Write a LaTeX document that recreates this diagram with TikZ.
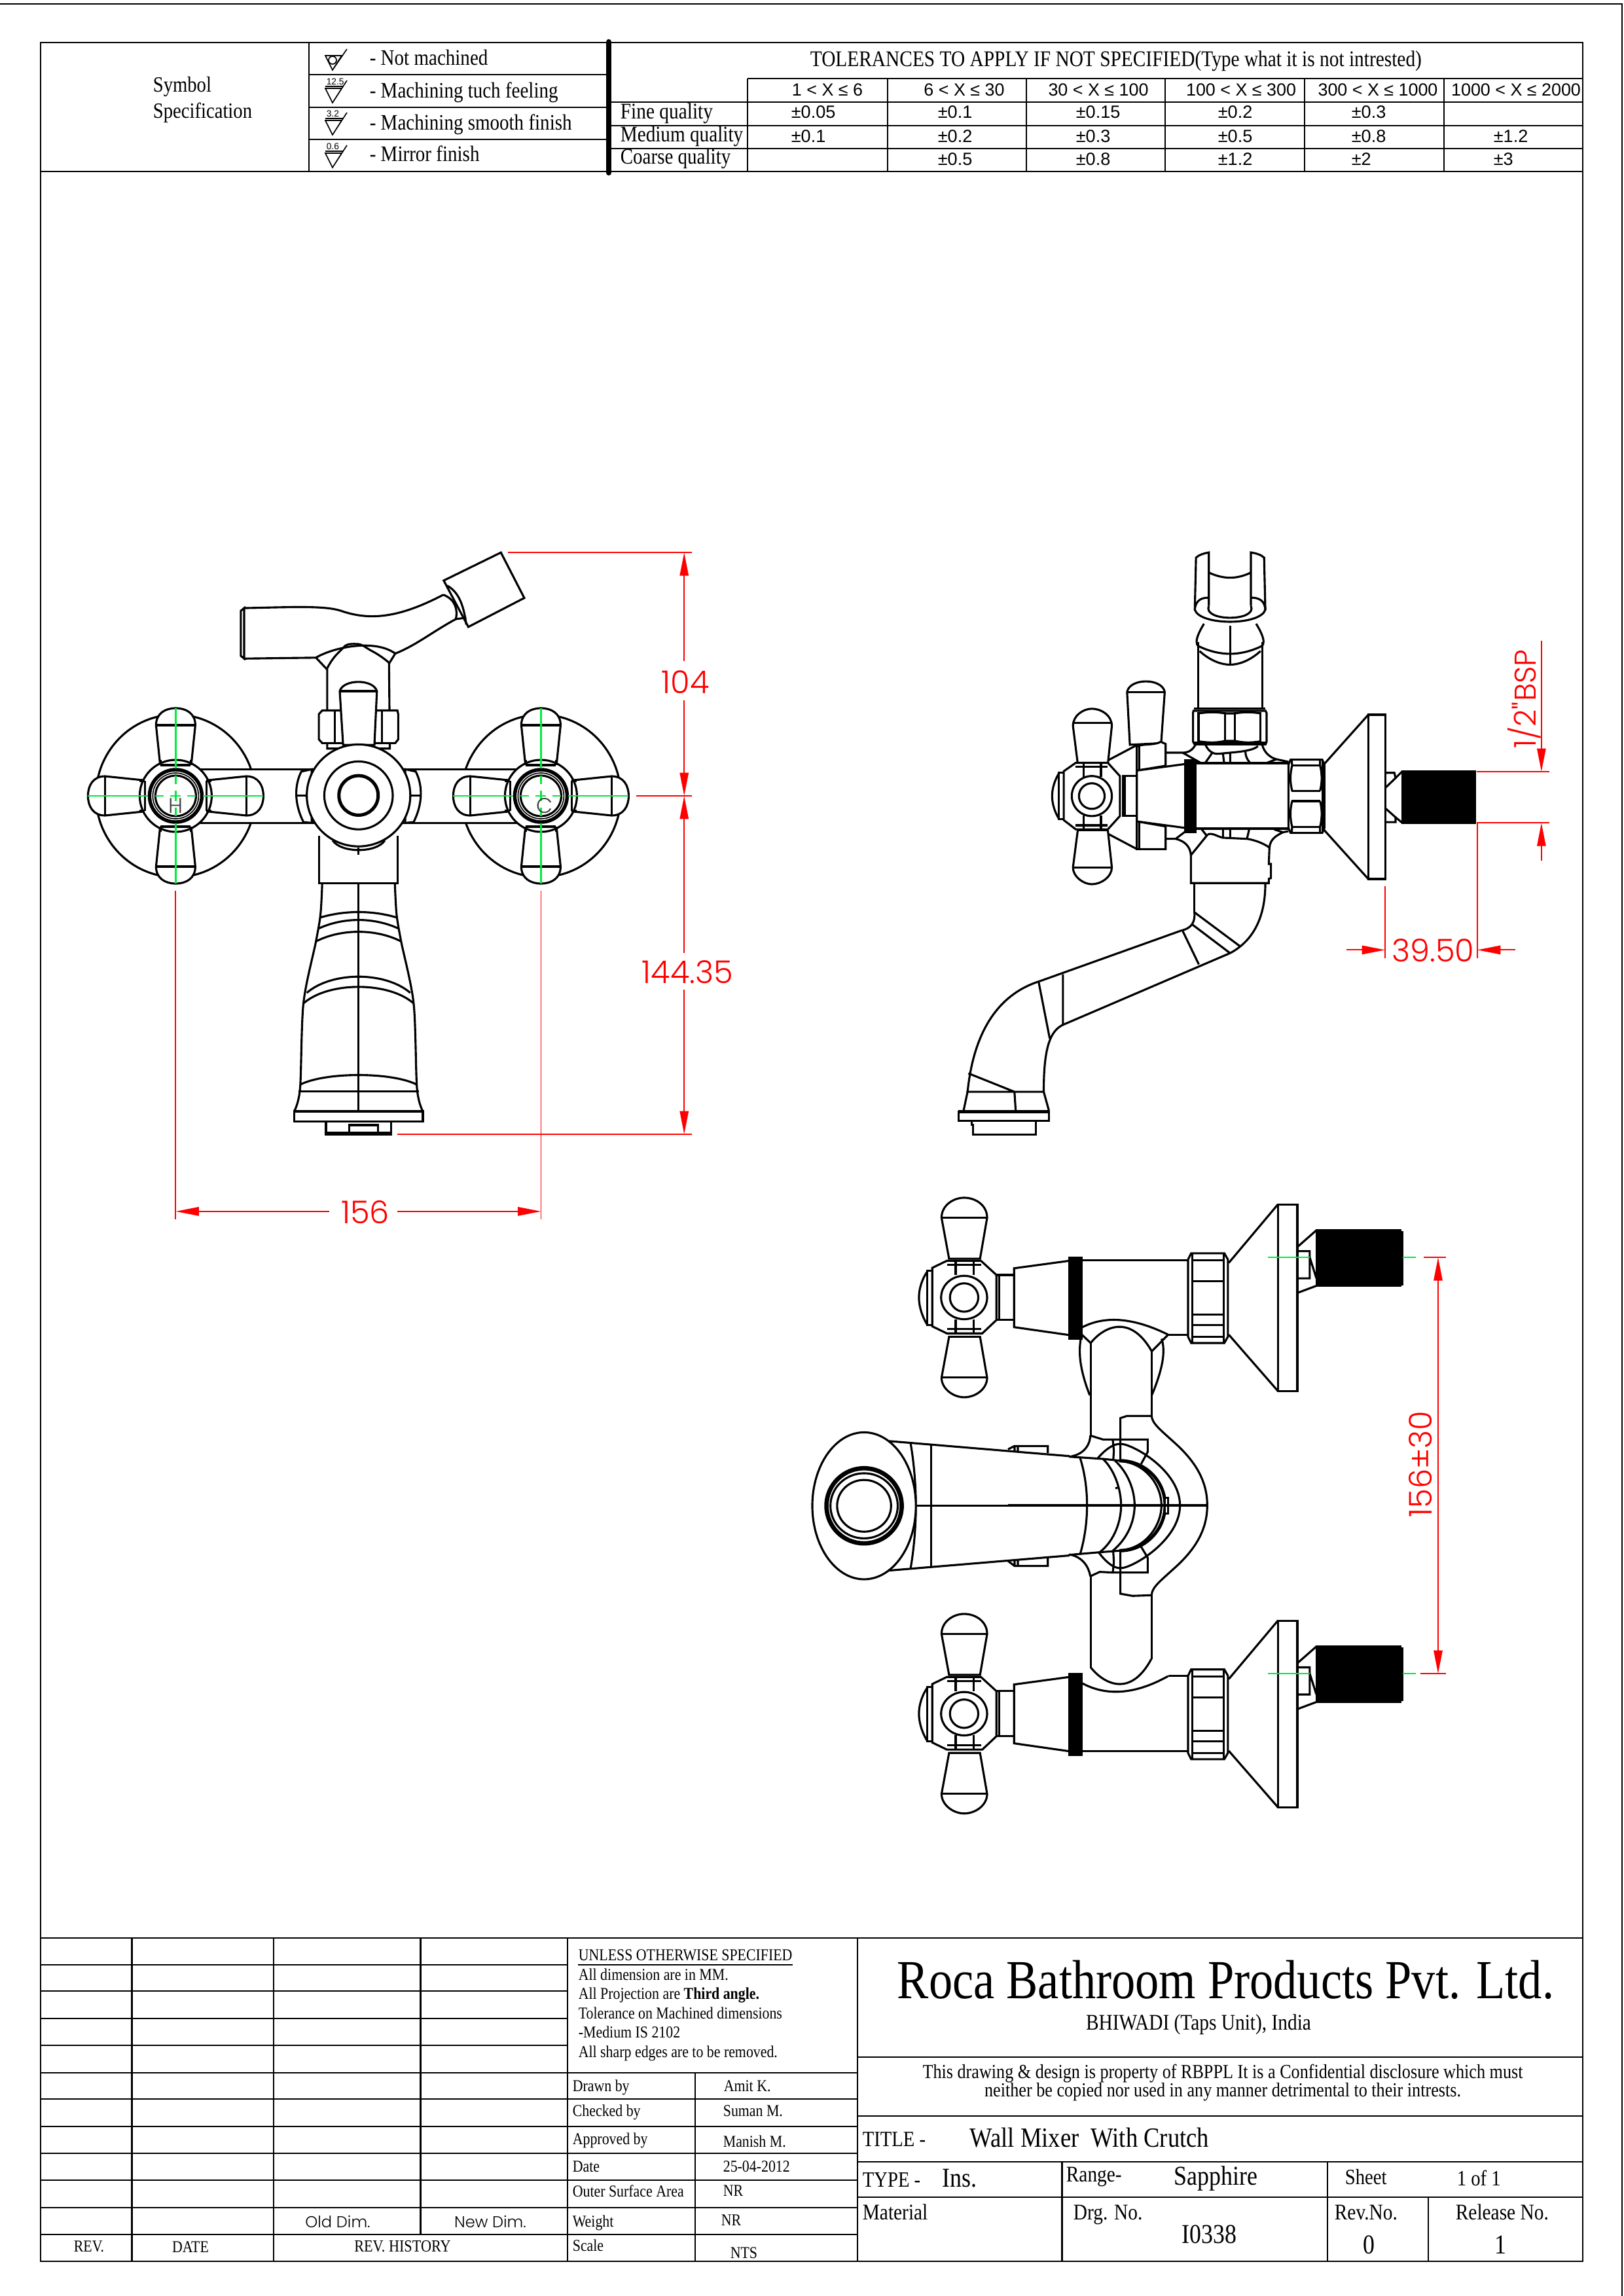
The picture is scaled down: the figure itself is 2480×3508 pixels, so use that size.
\documentclass[tikz,border=0pt]{standalone}
\usepackage{fontspec}
\setmainfont[FakeStretch=0.86]{Liberation Serif}
\newfontfamily\tolfont{Liberation Sans}
\newfontfamily\dimfont{Poppins Light}
\usetikzlibrary{arrows.meta}
\definecolor{axisgreen}{RGB}{0,235,60}

\tikzset{
	gridline/.style={draw=black,line width=.6pt},
	outl/.style={draw=black,line width=.75pt},
	part/.style={draw=black,line width=.75pt,fill=white},
	solid black/.style={draw=black,line width=.75pt,fill=black},
	cline/.style={draw=axisgreen,line width=.55pt},
	soft/.style={smooth,tension=1},
	dimline/.style={draw=red,line width=.45pt},
	dimtip/.style={dimline,-{Triangle[length=8.5pt,width=3.2pt,fill=red]}},
	dimlabel/.style={inner sep=0pt,text=red,font=\dimfont\fontsize{11.5}{11.5}\selectfont},
	lbl/.style={inner sep=0pt,anchor=base west,font=\fontsize{#1}{#1}\selectfont},
	lblc/.style={inner sep=0pt,anchor=base,font=\fontsize{#1}{#1}\selectfont},
	tol/.style={inner sep=0pt,anchor=base west,font=\tolfont\fontsize{6.5}{6.5}\selectfont},
	tolc/.style={inner sep=0pt,anchor=base,font=\tolfont\fontsize{6.45}{6.45}\selectfont},
	viewfront/.style={shift={(100,800)},xscale=0.6378,yscale=0.7015},
	viewside/.style={shift={(1420,800)},scale=0.6122},
	viewsidehub/.style={shift={(1720,1080)},scale=0.3333},
	viewplan/.style={shift={(1220,1800)},xscale=0.6761,yscale=0.6378},
	viewplanhub/.style={shift={(1540,2120)},scale=0.3333}
}

\newcommand{\knobfront}[2]{
	\begin{scope}[shift={(#1,#2)}]
		\foreach \ang in {0,90,180,270}{
			\begin{scope}[rotate=\ang]
				\draw[part] (-24,-50) -- (-30,-108) .. controls (-30,-126) and (-16,-134) .. (0,-134) .. controls (16,-134) and (30,-126) .. (30,-108) -- (24,-50) -- cycle;
				\draw[outl] (-30,-108) -- (30,-108);
			\end{scope}
		}
		\draw[part] (0,0) circle (55);
		\foreach \ang in {0,90,180,270}{
			\begin{scope}[rotate=\ang]
				\draw[outl] (-23,-55) -- (-23,-47) (23,-55) -- (23,-47);
				\draw[outl] (-23,-47) -- (23,-47);
			\end{scope}
		}
		\draw[outl,line width=1.3pt,fill=white] (0,0) circle (40);
		\draw[outl,line width=.4pt] (0,0) circle (35);
		\draw[outl] (0,0) circle (31);
		\draw[cline] (-134,0) -- (-42,0) (42,0) -- (134,0) (0,-134) -- (0,-42) (0,42) -- (0,134);
		\draw[cline] (-31,0) -- (-18,0) (-8,0) -- (8,0) (18,0) -- (31,0);
		\draw[cline] (0,-31) -- (0,-18) (0,-8) -- (0,8) (0,18) -- (0,31);
	\end{scope}
}

\newcommand{\planvalve}{
	\draw[part] (290,222) rectangle (302,352);
	\draw[outl] plot[soft] coordinates {(290,225) (272,286) (290,350)};
	\draw[part] (340,193) -- (323,95) .. controls (323,65) and (350,47) .. (374,47) .. controls (400,47) and (426,65) .. (426,95) -- (410,193) -- cycle;
	\draw[outl] (323,95) -- (426,95);
	\draw[part] (340,380) -- (323,478) .. controls (323,505) and (350,525) .. (374,525) .. controls (400,525) and (426,505) .. (426,478) -- (410,380) -- cycle;
	\draw[outl] (323,478) -- (426,478);
	\draw[part] (447,232) rectangle (487,340);
	\draw[outl] (453,232) -- (453,340);
	\draw[part] (302,215) -- (335,198) -- (412,198) -- (447,232) -- (447,340) -- (415,372) -- (335,372) -- (302,355) -- cycle;
	\draw[outl] (355,198) -- (355,232) (395,198) -- (395,232) (355,338) -- (355,372) (395,338) -- (395,372);
	\draw[outl] (335,208) -- (412,208) (335,362) -- (412,362);
	\draw[part] (374,286) ellipse [x radius=52,y radius=52];
	\draw[outl] (374,286) ellipse [x radius=32,y radius=34];
	\draw[part] (487,216) -- (612,198) -- (612,376) -- (487,357) -- cycle;
	\draw[solid black] (612,190) rectangle (640,385);
	\draw[part] (1083,63) rectangle (1127,510);
	\draw[outl] (972,203) -- (1083,63) (972,375) -- (1083,510);
	\draw[part] (887,180) -- (962,180) -- (970,195) -- (970,380) -- (962,395) -- (887,395) -- (880,380) -- (880,195) -- cycle;
	\draw[outl] (888,247) -- (962,247) (888,327) -- (962,327) (888,352) -- (962,352);
	\draw[outl] (888,197) -- (962,197) (888,380) -- (962,380);
	\draw[outl] (889,180) -- (889,395) (961,180) -- (961,395);
	\draw[outl] (1127,165) -- (1170,125) (1127,275) -- (1170,258);
	\draw[outl] (1127,175) -- (1155,175) -- (1155,240) -- (1127,240) (1155,190) -- (1170,240);
	\draw[solid black] (1170,125) rectangle (1360,258);
	\draw[outl] (1360,130) -- (1365,130) -- (1365,254) -- (1360,254);
	\draw[cline] (1060,190) -- (1155,190) (1365,190) -- (1395,190);
}

\begin{document}
\begin{tikzpicture}[x=0.24pt,y=-0.24pt]
	\useasboundingbox (0,0) rectangle (2480,3508);

	\draw[gridline] (0,6) -- (2478,6) -- (2478,3508);
	\draw[gridline] (62,65) rectangle (2418,3455);
	\draw[gridline] (62,262) -- (2418,262);
	\draw[gridline] (62,2961) -- (2418,2961);

	\draw[gridline] (472,65) -- (472,262);
	\draw[gridline] (472,114) -- (930,114) (472,164) -- (930,164) (472,213) -- (930,213);
	\draw[draw=black,line width=2pt,line cap=round] (930,64) -- (930,264);
	\draw[gridline] (1142,120) -- (2418,120);
	\foreach \yy in {156,192,227}
		\draw[gridline] (930,\yy) -- (2418,\yy);
	\foreach \xx in {1142,1356,1568,1780,1993,2206}
		\draw[gridline] (\xx,120) -- (\xx,262);

	\node (symbolA) [lbl=8] at (233,141) {Symbol};
	\node (symbolB) [lbl=8] at (233,181) {Specification};
	\node (finishA) [lbl=8.1] at (564,100) {- Not machined};
	\node (finishB) [lbl=8.1] at (564,150) {- Machining tuch feeling};
	\node (finishC) [lbl=8.1] at (564,199) {- Machining smooth finish};
	\node (finishD) [lbl=8.1] at (564,247) {- Mirror finish};
	\draw[line width=.4pt] (497,85) -- (522,85) -- (508,107) -- cycle (508,107) -- (530,75);
	\draw[line width=.4pt] (508,92) circle (6);
	\foreach \yy/\val/\nm in {135/12.5/A,184/3.2/B,234/0.6/C}{
		\draw[line width=.4pt] (497,\yy) -- (522,\yy) -- (508,\yy+22) -- cycle (497,\yy-3) -- (524,\yy-3) (508,\yy+22) -- (530,\yy-12);
		\node (rough\nm) [inner sep=0pt,anchor=base west,font=\tolfont\fontsize{3.3}{3.3}\selectfont] at (498,\yy-5) {\val};
	}

	\node (tolhead) [lbl=8.2] at (1237,102) {TOLERANCES TO APPLY IF NOT SPECIFIED(Type what it is not intrested)};
	\node (rangeA) [tolc] at (1264,147) {1 < X ≤ 6};
	\node (rangeB) [tolc] at (1473,147) {6 < X ≤ 30};
	\node (rangeC) [tolc] at (1678,147) {30 < X ≤ 100};
	\node (rangeD) [tolc] at (1896,147) {100 < X ≤ 300};
	\node (rangeE) [tolc] at (2105,147) {300 < X ≤ 1000};
	\node (rangeF) [tolc] at (2316,147) {1000 < X ≤ 2000};
	\node (fine) [lbl=8.2] at (947,182) {Fine quality};
	\node (medium) [lbl=8.15] at (947,217) {Medium quality};
	\node (coarse) [lbl=8.1] at (947,251) {Coarse quality};
	\foreach \xx/\val/\nm in {1208/0.05/A,1432/0.1/B,1643/0.15/C,1860/0.2/D,2064/0.3/E}
		\node (fine\nm) [tol] at (\xx,181) {±\val};
	\foreach \xx/\val/\nm in {1208/0.1/A,1432/0.2/B,1643/0.3/C,1860/0.5/D,2064/0.8/E,2281/1.2/F}
		\node (medium\nm) [tol] at (\xx,218) {±\val};
	\foreach \xx/\val/\nm in {1432/0.5/B,1643/0.8/C,1860/1.2/D,2064/2/E,2281/3/F}
		\node (coarse\nm) [tol] at (\xx,253) {±\val};

	\begin{scope}[viewfront]
		\draw[outl] (264,593) ellipse [x radius=191,y radius=177];
		\draw[outl] (1139,593) ellipse [x radius=191,y radius=177];
		\draw[part] (300,535) rectangle (1104,652);
		\draw[part] (600,292) .. controls (640,270) and (740,250) .. (790,283) -- (775,305) -- (777,490) -- (627,490) -- (627,318) -- cycle;
		\draw[outl] plot[soft] coordinates {(627,315) (655,280) (690,262) (735,278) (775,303)};
		\draw[outl] (428,184) .. controls (540,182) and (620,178) .. (660,190) .. controls (730,212) and (800,205) .. (905,155);
		\draw[outl] (428,294) -- (600,292);
		\draw[outl] (790,283) .. controls (840,265) and (880,235) .. (935,208);
		\draw[outl] (428,184) -- (420,190) -- (420,288) -- (428,294) -- cycle;
		\draw[part] (1043,63) -- (1099,162) -- (965,225) -- (906,124) -- cycle;
		\draw[outl] (914,135) .. controls (945,150) and (955,185) .. (960,220);
		\draw[outl] (905,155) .. controls (935,165) and (940,190) .. (935,208) -- (960,205);
		\draw[part] (607,415) -- (615,407) -- (795,407) -- (797,415) -- (797,470) -- (790,478) -- (615,478) -- (607,470) -- cycle;
		\draw[outl] (645,407) -- (645,478) (758,407) -- (758,478);
		\draw[part] (657,365) .. controls (665,338) and (738,338) .. (746,365) -- (740,482) -- (665,482) -- cycle;
		\draw[outl] (657,365) -- (746,365);
		\draw[outl] (608,680) -- (608,783) -- (795,783) -- (795,680);
		\draw[part] (590,535) -- (565,540) .. controls (548,570) and (548,610) .. (570,650) -- (590,652) -- cycle;
		\draw[part] (814,535) -- (839,540) .. controls (856,570) and (856,610) .. (834,650) -- (814,652) -- cycle;
		\draw[outl] (552,592) -- (580,592) (824,592) -- (852,592);
		\draw[outl] (640,690) .. controls (660,718) and (745,718) .. (765,690);
		\draw[outl] (702,705) -- (702,722);
		\draw[part] (702,592) ellipse [x radius=124,y radius=111];
		\draw[outl] (702,592) ellipse [x radius=82,y radius=74];
		\draw[outl,line width=1.2pt] (702,592) ellipse [x radius=47,y radius=43];
		\draw[outl] plot[smooth] coordinates {(615,783) (611,850) (600,910) (570,1045) (562,1230) (548,1280)};
		\draw[outl] plot[smooth] coordinates {(789,783) (793,850) (804,910) (834,1045) (842,1230) (856,1280)};
		\draw[outl] (702,783) -- (702,1302);
		\foreach \yl/\yc/\xl in {858/845/610,882/860/606,910/885/600,1022/978/578,1045/1000/570,1222/1197/562}
			\draw[outl] (\xl,\yl) .. controls (\xl+60,\yc-3) and (1344-\xl,\yc-3) .. (1404-\xl,\yl);
		\draw[outl] (558,1237) -- (846,1237);
		\draw[part] (548,1280) rectangle (856,1302);
		\draw[outl] (624,1302) -- (624,1330) -- (780,1330) -- (780,1302);
		\draw[outl] (624,1326) -- (780,1326) (680,1310) rectangle (748,1330);

		\draw[dimline] (1060,63) -- (1500,63);
		\draw[dimline] (1367,593) -- (1500,593);
		\draw[dimline] (795,1330) -- (1500,1330);
		\draw[dimline] (264,800) -- (264,1515);
		\draw[dimline] (1139,800) -- (1139,1515);
		\draw[dimtip] (1482,300) -- (1482,63);
		\draw[dimtip] (1482,385) -- (1482,593);
		\draw[dimtip] (1482,935) -- (1482,593);
		\draw[dimtip] (1482,1015) -- (1482,1330);
		\draw[dimtip] (632,1498) -- (264,1498);
		\draw[dimtip] (795,1498) -- (1139,1498);
		\node (dimA) [dimlabel] at (1485,345) {104};
		\node (dimB) [dimlabel] at (1490,977) {144.35};
		\node (dimC) [dimlabel] at (718,1500) {156};
	\end{scope}
	\knobfront{268.4}{1216}
	\knobfront{826.4}{1216}
	\node (hotmark) [inner sep=0pt,text=black!75,font=\dimfont\fontsize{7.8}{7.8}\selectfont] at (268.4,1231) {H};
	\node (coldmark) [inner sep=0pt,text=black!75,font=\dimfont\fontsize{7.8}{7.8}\selectfont] at (832,1231) {C};

	\begin{scope}[viewside]
		\draw[outl] plot[soft] coordinates {(661,970) (655,1000) (630,1015)};
		\draw[outl] (661,898) -- (661,970);
		\draw[outl] (630,1015) -- (275,1142);
		\draw[outl] (275,1142) .. controls (170,1175) and (110,1270) .. (95,1418) -- (85,1465);
		\draw[outl] (838,898) .. controls (838,980) and (810,1040) .. (750,1072);
		\draw[outl] (750,1072) -- (335,1250);
		\draw[outl] (335,1250) .. controls (300,1265) and (285,1310) .. (285,1418) -- (298,1465);
		\draw[outl] (661,970) -- (775,1055) (655,1000) -- (750,1072) (632,1017) -- (672,1100);
		\draw[outl] (272,1142) -- (300,1285) (333,1125) -- (333,1250);
		\draw[outl] (97,1372) -- (212,1418) (92,1418) -- (285,1418) (212,1418) -- (215,1465);
		\draw[part] (72,1467) rectangle (298,1490);
		\draw[outl,line width=1.2pt] (72,1467) -- (298,1467);
		\draw[outl] (105,1490) -- (105,1500) -- (108,1500) -- (108,1525) -- (265,1525) -- (265,1490);

		\draw[part] (493,420) .. controls (500,385) and (580,385) .. (587,420) -- (578,548) -- (500,552) -- cycle;
		\draw[outl] (493,420) -- (587,420);

		\draw[outl] (697,205) -- (697,72) .. controls (685,74) and (672,78) .. (665,85) -- (662,215) .. controls (675,255) and (825,255) .. (838,215) -- (835,85) .. controls (828,78) and (815,74) .. (802,72) -- (802,205);
		\draw[outl] plot[soft] coordinates {(697,122) (750,135) (802,122)};
		\draw[outl] plot[soft] coordinates {(662,215) (672,192) (697,185)};
		\draw[outl] plot[soft] coordinates {(838,215) (828,192) (802,185)};
		\draw[outl] (697,205) .. controls (680,245) and (820,245) .. (802,205);
		\draw[outl] plot[soft] coordinates {(685,250) (668,285) (670,305)};
		\draw[outl] plot[soft] coordinates {(815,250) (832,285) (830,305)};
		\draw[outl] (670,295) -- (670,460) (830,295) -- (830,460);
		\draw[outl] (750,255) -- (750,350);
		\draw[outl] plot[soft] coordinates {(670,305) (750,325) (830,305)};
		\draw[outl] plot[soft] coordinates {(674,318) (750,352) (826,318)};
		\draw[outl] (660,461) -- (838,461);
		\draw[outl] (447,590) -- (517,553) (447,775) -- (517,812);
	\end{scope}

	\begin{scope}[viewsidehub]
		\draw[part] (310,18) -- (640,18) -- (645,28) -- (645,160) -- (640,172) -- (315,172) -- (308,160) -- (308,25) -- cycle;
		\draw[outl] (333,25) -- (333,165) (455,25) -- (455,165) (500,25) -- (500,165) (617,25) -- (617,165);
		\draw[outl] (333,30) .. controls (390,22) and (420,24) .. (455,30) -- (500,30) .. controls (535,24) and (570,22) .. (617,30);
		\draw[outl] (333,158) .. controls (390,166) and (420,164) .. (455,156) -- (500,156) .. controls (535,164) and (570,166) .. (617,158);
		\draw[outl] (308,165) -- (645,165);
		\draw[outl] (320,172) .. controls (305,200) and (285,210) .. (260,210) -- (185,210);
		\draw[outl] (260,210) -- (340,255);
		\draw[outl] (365,175) .. controls (380,205) and (400,217) .. (425,215) -- (500,208) .. controls (550,203) and (590,195) .. (605,180);
		\draw[outl] (395,212) -- (365,255) (445,215) -- (450,255) (478,210) -- (478,255);
		\draw[outl] (548,205) .. controls (548,225) and (555,240) .. (568,255);
		\draw[outl] (625,175) .. controls (635,210) and (660,232) .. (690,240) -- (745,252);
		\draw[outl] (690,240) -- (650,255);
		\draw[part] (50,182) .. controls (70,168) and (130,178) .. (160,160) -- (182,170) -- (182,270) -- (50,292) -- cycle;
		\draw[part] (50,525) -- (182,548) -- (182,652) -- (50,652) -- cycle;
		\draw[outl] (62,180) -- (62,290) (62,530) -- (62,652);
		\draw[outl] (182,605) -- (228,605) -- (272,572);
		\draw[outl] (228,605) .. controls (270,615) and (295,640) .. (298,680) -- (375,585);
		\draw[outl] (375,585) .. controls (395,575) and (420,595) .. (445,600) -- (555,605) .. controls (590,610) and (630,625) .. (658,645);
		\draw[outl] (348,562) -- (370,590) (445,562) -- (445,600) (478,562) -- (478,605) (565,562) -- (555,605);
		\draw[outl] (658,645) .. controls (662,605) and (690,590) .. (720,575) -- (745,570) (680,562) -- (720,575);
		\draw[outl] (298,680) -- (298,808) -- (655,808) -- (655,788) -- (665,785) -- (665,720) -- (655,720) -- (658,645);
		\draw[part] (50,292) -- (272,262) -- (272,555) -- (50,525) -- cycle;
		\draw[solid black] (272,245) rectangle (320,575);
		\draw[part] (320,258) rectangle (745,558);
		\draw[part] (755,242) -- (900,242) -- (910,265) -- (910,555) -- (900,578) -- (755,578) -- (745,555) -- (745,265) -- cycle;
		\draw[outl] (760,268) -- (890,268) (760,385) -- (890,385) (760,432) -- (890,432) (760,550) -- (890,550);
		\draw[outl] (760,245) -- (762,268) .. controls (752,310) and (752,345) .. (762,385) (762,432) .. controls (752,470) and (752,510) .. (762,550) -- (760,578);
		\draw[outl] (890,245) -- (890,268) .. controls (900,310) and (900,345) .. (890,385) (890,432) .. controls (900,470) and (900,510) .. (890,550) -- (890,578);
		\draw[outl] (903,250) -- (903,570);
	\end{scope}

	\begin{scope}[viewside]
		\draw[part] (322,622) rectangle (335,738);
		\draw[outl] plot[soft] coordinates {(322,625) (306,680) (322,735)};
		\draw[part] (370,600) -- (358,505) .. controls (358,478) and (385,462) .. (405,462) .. controls (428,462) and (455,478) .. (455,505) -- (445,600) -- cycle;
		\draw[outl] (358,498) -- (455,498);
		\draw[part] (370,765) -- (358,858) .. controls (358,882) and (385,900) .. (405,900) .. controls (428,900) and (455,882) .. (455,858) -- (445,765) -- cycle;
		\draw[outl] (358,858) -- (455,858);
		\draw[part] (482,630) rectangle (517,730);
		\draw[outl] (487,630) -- (487,730);
		\draw[part] (335,618) -- (365,597) -- (445,597) -- (475,630) -- (475,730) -- (445,763) -- (365,763) -- (335,740) -- cycle;
		\draw[outl] (385,597) -- (385,632) (428,597) -- (428,632) (385,728) -- (385,763) (428,728) -- (428,763);
		\draw[outl] (365,607) -- (445,607) (365,753) -- (445,753);
		\draw[part] (405,680) ellipse [x radius=50,y radius=50];
		\draw[outl] (405,680) ellipse [x radius=32,y radius=32];
		\draw[part] (1095,477) rectangle (1137,887);
		\draw[outl] (985,600) -- (1095,477) (985,765) -- (1095,887);
		\draw[outl] (1137,622) -- (1160,622) -- (1163,635) -- (1137,660) (1137,710) -- (1163,733) -- (1163,745) -- (1137,745);
		\draw[outl] (1163,635) -- (1180,618) (1163,733) -- (1180,747);
		\draw[solid black] (1180,618) rectangle (1362,747);

		\draw[dimline] (1365,619) -- (1547,619);
		\draw[dimline] (1365,747) -- (1547,747);
		\draw[dimline] (1137,905) -- (1137,1085);
		\draw[dimline] (1367,747) -- (1367,1085);
		\draw[dimtip] (1527,292) -- (1527,619);
		\draw[dimtip] (1527,842) -- (1527,747);
		\draw[dimtip] (1040,1064) -- (1137,1064);
		\draw[dimtip] (1462,1064) -- (1367,1064);
		\node (dimD) [dimlabel,rotate=90,font=\dimfont\fontsize{11}{11}\selectfont] at (1484,438) {1/2"BSP};
		\node (dimE) [dimlabel] at (1257,1065) {39.50};
	\end{scope}

	\begin{scope}[viewplan]
		\draw[outl] (660,395) -- (660,620) (798,415) -- (798,570);
		\draw[outl] (660,950) -- (660,1172) (798,998) -- (798,1152);
		\draw[outl] plot[soft] coordinates {(640,375) (637,440) (658,520)};
		\draw[outl] plot[soft] coordinates {(820,385) (822,440) (798,520)};
		\draw[outl] (612,378) .. controls (660,335) and (730,320) .. (835,375);
		\draw[outl] (660,395) .. controls (690,355) and (750,325) .. (798,415);
		\draw[outl] (640,375) -- (660,395) (835,375) -- (798,415);
		\draw[outl] (612,1190) .. controls (660,1230) and (730,1255) .. (835,1193);
		\draw[outl] (660,1172) .. controls (690,1212) and (750,1245) .. (797,1152);
		\draw[outl] (640,1372) -- (880,1372) (835,1193) -- (880,1193) (640,197) -- (880,197) (835,375) -- (880,375);
		\draw[outl] (205,630) -- (612,666) (205,940) -- (612,904);
		\draw[outl] plot[soft] coordinates {(253,635) (265,785) (253,935)};
		\draw[outl] (300,640) -- (300,932);
		\draw[outl] (265,785) -- (473,785);
		\draw[part] (148,785) ellipse [x radius=117,y radius=176];
		\draw[outl,line width=1.6pt] (148,785) ellipse [x radius=85,y radius=90];
		\draw[outl] (148,785) ellipse [x radius=76,y radius=78];
		\draw[outl] (148,785) ellipse [x radius=61,y radius=62];
	\end{scope}

	\begin{scope}[viewplanhub]
		\draw[outl] (658,130) .. controls (660,165) and (700,195) .. (760,250) .. controls (850,330) and (913,420) .. (913,540) .. controls (913,660) and (850,750) .. (760,830) .. controls (700,885) and (660,915) .. (658,950);
		\draw[outl] (515,335) -- (515,140) -- (545,130) -- (658,130);
		\draw[outl] (515,750) -- (515,945) -- (570,955) -- (658,952);
		\draw[outl] (377,220) .. controls (375,270) and (340,310) .. (280,317);
		\draw[outl] (377,220) -- (435,238) -- (640,238) -- (640,295) -- (610,350);
		\draw[outl] (480,240) -- (485,290) -- (482,335);
		\draw[outl] (482,750) -- (485,800) -- (480,848) -- (640,848) -- (640,780) -- (610,730);
		\draw[outl] (377,865) -- (420,845) -- (480,848);
		\draw[outl] (377,865) .. controls (370,820) and (340,775) .. (280,765);
		\draw[outl] (410,325) .. controls (445,285) and (480,258) .. (515,258) .. controls (570,258) and (788,380) .. (788,540) .. controls (788,700) and (570,828) .. (515,828) .. controls (480,828) and (445,795) .. (415,755);
		\draw[outl] (280,317) -- (435,327) -- (510,335);
		\draw[outl] (280,767) -- (420,755) -- (510,748);
		\draw[outl,line width=1.2pt] (510,335) .. controls (630,335) and (720,430) .. (720,540) .. controls (720,650) and (630,748) .. (510,748);
		\draw[outl] (510,338) .. controls (620,340) and (703,440) .. (703,540) .. controls (703,640) and (620,745) .. (510,745);
		\draw[outl] (330,322) .. controls (355,400) and (362,480) .. (362,540) .. controls (362,600) and (355,680) .. (330,765);
		\draw[outl] (435,327) .. controls (490,380) and (518,470) .. (518,540) .. controls (518,610) and (490,700) .. (420,755);
		\draw[outl] (490,335) .. controls (550,390) and (580,470) .. (580,540) .. controls (580,610) and (550,690) .. (480,748);
		\draw[part] (718,505) rectangle (733,578);
		\draw[outl] (0,540) -- (913,540);
		\draw[outl] (492,462) -- (505,458);
		\draw[outl] (0,283) -- (30,268) -- (182,268) -- (182,300) (30,268) -- (30,292) (45,268) -- (45,292);
		\draw[outl] (0,795) -- (30,818) -- (182,818) -- (182,783) (30,795) -- (30,818) (45,790) -- (45,818);
	\end{scope}

	\begin{scope}[viewplan]
		\planvalve
		\begin{scope}[shift={(0,997)}]
			\planvalve
		\end{scope}
		\draw[dimline] (1413,190) -- (1463,190);
		\draw[dimline] (1405,1187) -- (1463,1187);
		\draw[dimtip] (1445,685) -- (1445,190);
		\draw[dimtip] (1445,685) -- (1445,1187);
		\node (dimF) [dimlabel,rotate=90] at (1405,685) {156±30};
	\end{scope}

	\foreach \yy in {3002,3042,3084,3125}
		\draw[gridline] (62,\yy) -- (867,\yy);
	\foreach \yy in {3167,3207,3249,3290,3331,3373,3414}
		\draw[gridline] (62,\yy) -- (1310,\yy);
	\draw[gridline] (201.6,2961) -- (201.6,3455);
	\draw[gridline] (418,2961) -- (418,3455);
	\draw[gridline] (642.4,2961) -- (642.4,3414);
	\draw[gridline] (867,2961) -- (867,3455);
	\draw[gridline] (1062,3167) -- (1062,3455);
	\draw[gridline] (1310,2961) -- (1310,3455);
	\draw[gridline] (883,3002) -- (1211,3002);
	\foreach \yy in {3143,3233,3303,3357}
		\draw[gridline] (1310,\yy) -- (2418,\yy);
	\draw[gridline] (1622.5,3303) -- (1622.5,3455);
	\draw[gridline] (2028,3303) -- (2028,3455);
	\draw[gridline] (2182,3357) -- (2182,3455);

	\node (revhead) [lblc=6.1] at (136,3440) {REV.};
	\node (datehead) [lblc=6.1] at (291,3441) {DATE};
	\node (histhead) [lblc=6.2] at (615,3440) {REV. HISTORY};
	\node (olddim) [lblc=5.8,font=\dimfont\fontsize{5.8}{5.8}\selectfont] at (516,3403) {Old Dim.};
	\node (newdim) [lblc=5.8,font=\dimfont\fontsize{5.8}{5.8}\selectfont] at (749,3403) {New Dim.};
	\node (noteA) [lbl=6.1] at (883,2995) {UNLESS OTHERWISE SPECIFIED};
	\node (noteB) [lbl=6.1] at (883,3025) {All dimension are in MM.};
	\node (noteC) [lbl=6.1] at (883,3054) {All Projection are \textbf{Third angle.}};
	\node (noteD) [lbl=6.1] at (883,3084) {Tolerance on Machined dimensions};
	\node (noteE) [lbl=6.1] at (883,3113) {-Medium IS 2102};
	\node (noteF) [lbl=6.1] at (883,3143) {All sharp edges are to be removed.};
	\foreach \yy/\val/\nm in {3195/Drawn by/A,3233/Checked by/B,3276/Approved by/C,3318/Date/D,3356/Outer Surface Area/E,3402/Weight/F,3439/Scale/G}
		\node (sign\nm) [lbl=6.1] at (874,\yy) {\val};
	\node (nameA) [lbl=6.1] at (1105,3195) {Amit K.};
	\node (nameB) [lbl=6.1] at (1104,3233) {Suman M.};
	\node (nameC) [lbl=6.1] at (1104,3280) {Manish M.};
	\node (nameD) [lbl=6.1] at (1104,3318) {25-04-2012};
	\node (nameE) [lbl=6.1] at (1104,3355) {NR};
	\node (nameF) [lbl=6.1] at (1101,3400) {NR};
	\node (nameG) [lbl=6.1] at (1115,3450) {NTS};

	\node (company) [lbl=20.2] at (1370,3053) {Roca Bathroom Products Pvt. Ltd.};
	\node (unit) [lblc=8.2] at (1831,3101) {BHIWADI (Taps Unit), India};
	\node (noticeA) [lblc=7.3] at (1868,3175) {This drawing \& design is property of RBPPL It is a Confidential disclosure which must};
	\node (noticeB) [lblc=7.3] at (1868,3203) {neither be copied nor used in any manner detrimental to their intrests.};
	\node (titlekey) [lbl=8] at (1317,3279) {TITLE -};
	\node (titleval) [lbl=10.2] at (1481,3280) {Wall Mixer\ \ With Crutch};
	\node (typekey) [lbl=8] at (1317,3341) {TYPE -};
	\node (typeval) [lbl=10] at (1439,3341) {Ins.};
	\node (rangekey) [lbl=8.2] at (1628,3333) {Range-};
	\node (rangeval) [lbl=10] at (1793,3338) {Sapphire};
	\node (sheetkey) [lbl=8] at (2054,3337) {Sheet};
	\node (sheetval) [lbl=8] at (2225,3339) {1 of 1};
	\node (material) [lbl=8.2] at (1317,3391) {Material};
	\node (drgkey) [lbl=8.2] at (1639,3391) {Drg. No.};
	\node (drgval) [lbl=10] at (1805,3427) {I0338};
	\node (revkey) [lbl=8.2] at (2038,3391) {Rev.No.};
	\node (relkey) [lbl=8.2] at (2223,3391) {Release No.};
	\node (revval) [lblc=10] at (2091,3443) {0};
	\node (relval) [lblc=10] at (2292,3443) {1};
\end{tikzpicture}
\end{document}
